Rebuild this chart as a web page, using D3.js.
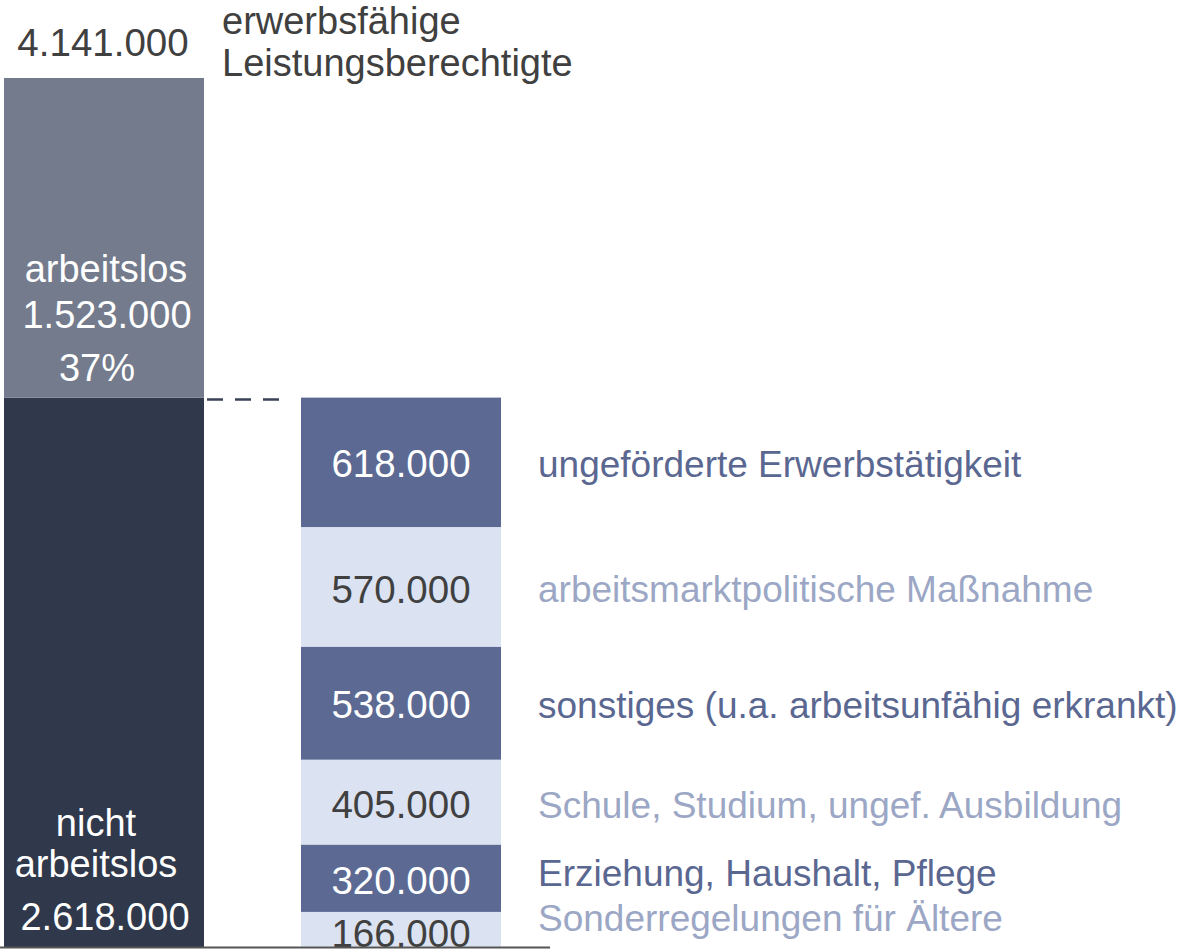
<!DOCTYPE html>
<html>
<head>
<meta charset="utf-8">
<script src="https://cdn.jsdelivr.net/npm/d3@7"></script>
<style>
  body { margin: 0; background: #fff; }
  svg { display: block; font-family: "Liberation Sans", Arial, sans-serif; }
</style>
</head>
<body>
<svg id="chart" width="1179" height="949"></svg>
<script>
// totals (left bar)
const total = 4141000;
const leftNames = ["nicht arbeitslos", "arbeitslos"];
const leftValues = [2618000, 1523000];
const leftShare = "37%";

// breakdown of "nicht arbeitslos" (right bar, top to bottom)
const rightNames = [
  "ungeförderte Erwerbstätigkeit",
  "arbeitsmarktpolitische Maßnahme",
  "sonstiges (u.a. arbeitsunfähig erkrankt)",
  "Schule, Studium, ungef. Ausbildung",
  "Erziehung, Haushalt, Pflege",
  "Sonderregelungen für Ältere"
];
const rightValues = [618000, 570000, 538000, 405000, 320000, 166000];

const svg = d3.select("#chart");
const fmt = v => d3.format(",")(v).replace(/,/g, ".");

const dark = "#30384b", grey = "#737b8d", mid = "#5c6a93", light = "#dbe2f1";
const labelDark = "#5a6791", labelLight = "#9ba7c5";

const y = d3.scaleLinear().domain([0, total]).range([947, 78]);
const x = d3.scaleBand().domain(["left", "right"]).range([4, 501]).paddingInner(97 / 297);

// left stacked bar
let cum = 0;
const leftStack = leftValues.map((v, i) => {
  const s = { name: leftNames[i], v, y0: cum, y1: cum + v };
  cum += v;
  return s;
});
svg.append("g").selectAll("rect")
  .data(leftStack).join("rect")
  .attr("x", x("left"))
  .attr("width", x.bandwidth())
  .attr("y", d => y(d.y1))
  .attr("height", d => y(d.y0) - y(d.y1))
  .attr("fill", (d, i) => i === 0 ? dark : grey);

// right stacked bar, hanging down from the top of "nicht arbeitslos"
let level = leftValues[0];
const rightStack = rightValues.map((v, i) => {
  const s = { name: rightNames[i], v, y1: level, y0: level - v, i };
  level -= v;
  return s;
});
const rg = svg.append("g");
rg.selectAll("rect")
  .data(rightStack).join("rect")
  .attr("x", x("right"))
  .attr("width", x.bandwidth())
  .attr("y", d => y(d.y1))
  .attr("height", d => y(d.y0) - y(d.y1))
  .attr("fill", d => d.i % 2 === 0 ? mid : light);

// value and category labels; the two small bottom rows are nudged apart
const valueDy = [15, 16, 15, 16, 16, 18];
const labelDy = [15, 15, 15, 16, 8, 2];
const cx = x("right") + x.bandwidth() / 2;
rg.selectAll("text.val")
  .data(rightStack).join("text")
  .attr("class", "val")
  .attr("x", cx)
  .attr("y", d => y((d.y0 + d.y1) / 2) + valueDy[d.i])
  .attr("text-anchor", "middle")
  .attr("font-size", 38.5)
  .attr("fill", d => d.i % 2 === 0 ? "#fff" : "#404040")
  .text(d => fmt(d.v));
rg.selectAll("text.lab")
  .data(rightStack).join("text")
  .attr("class", "lab")
  .attr("x", 538)
  .attr("y", d => y((d.y0 + d.y1) / 2) + labelDy[d.i])
  .attr("font-size", 37)
  .attr("fill", d => d.i % 2 === 0 ? labelDark : labelLight)
  .text(d => d.name);

// labels on the left bar
const lx = x("left") + x.bandwidth() / 2;
const lt = svg.append("g").attr("fill", "#fff").attr("font-size", 38).attr("text-anchor", "middle");
const topMid = y(leftStack[1].y1 - leftStack[1].v / 2);
lt.append("text").attr("x", lx + 2).attr("y", topMid + 44).text(leftNames[1]);
lt.append("text").attr("x", lx + 3).attr("y", topMid + 90).text(fmt(leftValues[1]));
lt.append("text").attr("x", lx - 7).attr("y", topMid + 143).text(leftShare);
lt.append("text").attr("x", lx - 8).attr("y", y(0) - 111).text("nicht");
lt.append("text").attr("x", lx - 8).attr("y", y(0) - 70).text("arbeitslos");
lt.append("text").attr("x", lx + 1).attr("y", y(0) - 17).text(fmt(leftValues[0]));

// total and title
svg.append("text").attr("x", lx - 1).attr("y", 56).attr("text-anchor", "middle")
  .attr("font-size", 38.5).attr("fill", "#404040").text(fmt(total));
svg.append("text").attr("x", 222).attr("y", 34).attr("font-size", 38).attr("fill", "#404040").text("erwerbsfähige");
svg.append("text").attr("x", 222).attr("y", 76).attr("font-size", 38).attr("fill", "#404040").text("Leistungsberechtigte");

// dashed connector
svg.append("line")
  .attr("x1", 207).attr("x2", 280)
  .attr("y1", y(leftValues[0]) + 2).attr("y2", y(leftValues[0]) + 2)
  .attr("stroke", "#3a4257").attr("stroke-width", 2.5)
  .attr("stroke-dasharray", "16,12");

// base line
svg.append("line")
  .attr("x1", 0).attr("x2", 550)
  .attr("y1", y(0) + 0.5).attr("y2", y(0) + 0.5)
  .attr("stroke", "#555").attr("stroke-width", 2);
</script>
</body>
</html>
